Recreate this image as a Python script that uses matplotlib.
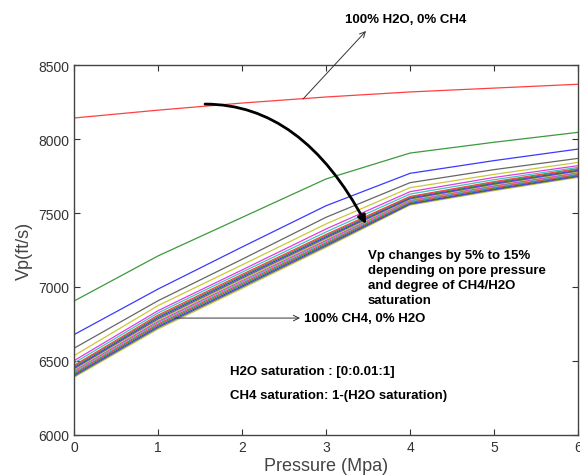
import matplotlib.pyplot as plt

# pressure (MPa)
pressure = [0, 1, 2, 3, 4, 5, 6]

# Vp (ft/s) curves, from 100% H2O downwards
vp_100 = [8142, 8195, 8243, 8284, 8318, 8344, 8370]
vp_99 = [6905, 7210, 7470, 7730, 7905, 7978, 8045]
vp_98 = [6678, 6986, 7270, 7549, 7768, 7854, 7932]
vp_97 = [6586, 6907, 7187, 7471, 7705, 7793, 7869]
vp_96 = [6536, 6874, 7149, 7426, 7671, 7761, 7842]
vp_95 = [6502, 6840, 7115, 7392, 7644, 7740, 7820]
vp_94 = [6486, 6825, 7100, 7372, 7628, 7725, 7808]

# the packed bundle of the remaining saturations
bundle = [
    [6470, 6810, 7085, 7355, 7612, 7712, 7800],
    [6463, 6801, 7076, 7347, 7607, 7706, 7795],
    [6455, 6793, 7068, 7339, 7601, 7701, 7789],
    [6448, 6784, 7059, 7331, 7596, 7695, 7784],
    [6441, 6776, 7050, 7323, 7591, 7690, 7779],
    [6434, 6767, 7042, 7315, 7586, 7684, 7773],
    [6426, 6759, 7033, 7307, 7580, 7679, 7768],
    [6419, 6750, 7025, 7299, 7575, 7673, 7762],
    [6412, 6742, 7016, 7291, 7570, 7668, 7757],
    [6405, 6733, 7007, 7284, 7564, 7662, 7752],
    [6397, 6725, 6999, 7276, 7559, 7657, 7746],
    [6390, 6716, 6990, 7268, 7554, 7651, 7741],
]

# matlab-like color order (washed out like the jpeg)
cols = {'b': '#3a3aff', 'g': '#3c9a3c', 'r': '#ff4040', 'c': '#3cc4c4',
        'm': '#e03ce0', 'y': '#c8c83c', 'k': '#666666'}
order = ['r', 'g', 'b', 'k', 'y', 'm', 'c']

curves = [vp_100, vp_99, vp_98, vp_97, vp_96, vp_95, vp_94] + bundle

plt.rcParams['font.family'] = ['Liberation Sans', 'DejaVu Sans']

fig = plt.figure(figsize=(5.8, 4.77), dpi=100)
ax = fig.add_axes([0.1276, 0.086, 0.869, 0.7756])

# draw lowest first so the upper curves sit on top
for i in range(len(curves) - 1, -1, -1):
    c = cols[order[i % 7]]
    ax.plot(pressure, curves[i], color=c, lw=0.9)

ax.set_xlim(0, 6)
ax.set_ylim(6000, 8500)
ax.set_xticks(range(0, 7))
ax.set_yticks(range(6000, 8501, 500))
ax.tick_params(direction='in', top=True, right=True, length=4, colors='#333333',
               labelsize=10)
for s in ax.spines.values():
    s.set_color('#444444')
    s.set_linewidth(1.0)

ax.set_xlabel('Pressure (Mpa)', fontsize=13, color='#444444', labelpad=2)
ax.set_ylabel('Vp(ft/s)', fontsize=13, color='#444444', labelpad=4)

bold = dict(fontsize=9.5, fontweight='bold', color='black')

# 100% water label with a thin arrow from the red line
ax.annotate('', xy=(3.476, 8730), xytext=(2.726, 8270), annotation_clip=False,
            arrowprops=dict(arrowstyle='->', color='#333333', lw=0.7,
                            shrinkA=0, shrinkB=0))
ax.text(3.226, 8811, '100% H2O, 0% CH4', ha='left', va='center', clip_on=False, **bold)

# big curved arrow
ax.annotate('', xy=(3.476, 7426), xytext=(1.56, 8236),
            arrowprops=dict(arrowstyle='-|>', color='black', lw=2,
                            connectionstyle='angle3,angleA=0,angleB=-62',
                            shrinkA=0, shrinkB=0, mutation_scale=12))
ax.text(3.5, 7255, 'Vp changes by 5% to 15%\ndepending on pore pressure\n'
        'and degree of CH4/H2O\nsaturation', ha='left', va='top',
        linespacing=1.32, **bold)

# 100% gas label
ax.annotate('', xy=(2.69, 6790), xytext=(1.20, 6790),
            arrowprops=dict(arrowstyle='->', color='#333333', lw=0.7,
                            shrinkA=0, shrinkB=0))
ax.text(2.74, 6790, '100% CH4, 0% H2O', ha='left', va='center', **bold)

ax.text(1.857, 6432, 'H2O saturation : [0:0.01:1]', ha='left', va='center', **bold)
ax.text(1.857, 6270, 'CH4 saturation: 1-(H2O saturation)', ha='left', va='center', **bold)

fig.savefig('out.png', dpi=100)
